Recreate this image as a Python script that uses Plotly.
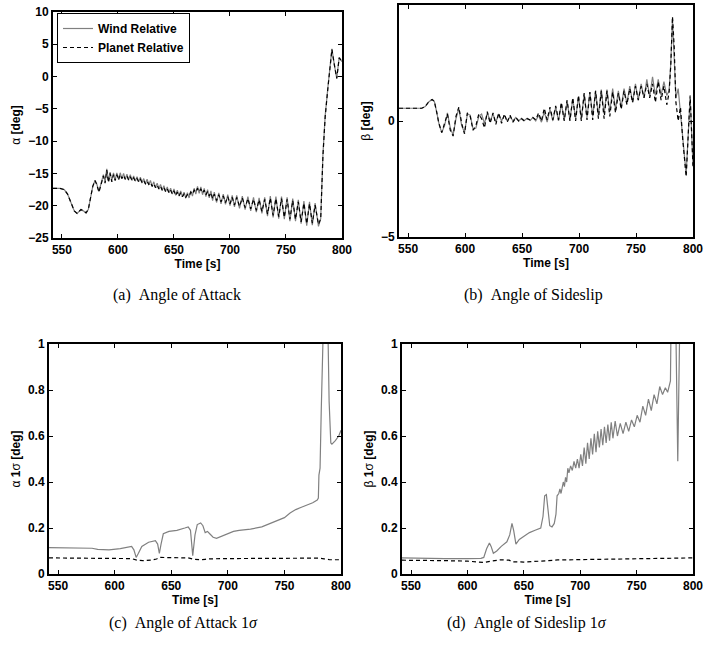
import plotly.graph_objects as go

# ---------------- data ----------------
t_alpha = [542, 548, 552, 555, 558, 561, 563.5, 565, 567, 569, 571.5, 573.5, 575.5, 577.5, 579.5, 581, 583,
           585, 587, 588.5, 590, 591.5, 593, 594.5, 596, 597.5, 599, 600.5, 602, 603.5, 605, 606.5, 608, 609.5,
           611, 612.5, 614, 615.5, 617, 618.5, 620, 621.5, 623, 624.5, 626, 627.5, 629, 630.5, 632, 633.5, 635,
           636.5, 638, 639.5, 641, 642.5, 644, 645.5, 647, 648.5, 650, 651.5, 653, 654.5, 656, 657.5, 659, 660.5,
           662, 663.5, 665, 666.5, 668, 669.5, 671, 672.5, 674, 675.5, 677, 678.5, 680, 681.5, 683, 684.5, 686,
           688, 690, 692, 694, 696, 698, 700, 702, 704, 706, 708.5, 711, 713.5, 716, 718.5, 721, 723.5, 726,
           728.5, 731, 733.5, 736, 738.5, 741, 743.5, 746, 748.5, 751, 753.5, 756, 758.5, 761, 763.5, 766,
           768.5, 771, 773.5, 776, 779, 781, 783, 785, 787.5, 789, 791, 793, 795.3, 797.5, 800]
alpha_wind = [-17.3, -17.3, -17.5, -18.2, -19.5, -20.8, -21.2, -20.9, -20.6, -20.8, -21.1, -20.6, -19.0, -17.0,
              -16.1, -16.6, -17.8, -16.4, -15.2, -16.3, -14.3, -16.2, -14.8, -16.1, -14.9, -16.0, -14.9, -15.9,
              -14.9, -15.8, -15.0, -15.9, -15.1, -16.0, -15.2, -16.1, -15.4, -16.2, -15.5, -16.3, -15.6, -16.4,
              -15.8, -16.6, -15.9, -16.7, -16.1, -17.0, -16.3, -17.2, -16.5, -17.4, -16.7, -17.6, -16.9, -17.8,
              -17.1, -18.0, -17.3, -18.2, -17.4, -18.4, -17.6, -18.5, -17.7, -18.6, -17.9, -18.8, -18.0, -18.8,
              -17.7, -18.5, -17.3, -18.2, -17.0, -18.1, -17.1, -18.3, -17.3, -18.6, -17.5, -18.8, -17.7, -19.2,
              -17.9, -19.5, -18.0, -19.7, -18.2, -19.8, -18.3, -20.0, -18.4, -20.2, -18.4, -20.4, -18.5, -20.6,
              -18.6, -20.8, -18.7, -21.0, -18.8, -21.2, -18.7, -21.6, -18.5, -21.8, -18.6, -22.0, -18.6, -22.1,
              -18.7, -22.4, -18.9, -22.4, -19.1, -22.8, -19.3, -23.1, -19.4, -23.0, -19.6, -23.2, -22.0, -12.0,
              -6.0, -1.5, 1.5, 4.3, 2.0, -0.3, 3.0, 2.3]
alpha_planet = [-17.3, -17.3, -17.5, -18.2, -19.5, -20.8, -21.2, -20.9, -20.6, -20.8, -21.1, -20.6, -19.0, -17.0,
                -16.1, -16.7, -17.9, -16.5, -15.4, -16.5, -14.5, -16.4, -15.0, -16.3, -15.2, -16.1, -15.2, -16.0,
                -15.2, -15.8, -15.3, -15.9, -15.4, -16.0, -15.5, -16.1, -15.7, -16.2, -15.8, -16.3, -15.9, -16.4,
                -16.1, -16.6, -16.2, -16.7, -16.4, -17.0, -16.6, -17.2, -16.8, -17.4, -17.0, -17.6, -17.2, -17.8,
                -17.4, -18.0, -17.6, -18.2, -17.7, -18.4, -17.9, -18.5, -18.0, -18.6, -18.2, -18.7, -18.3, -18.5,
                -17.9, -18.2, -17.6, -17.9, -17.3, -17.8, -17.4, -18.0, -17.6, -18.3, -17.8, -18.5, -18.0, -18.9,
                -18.2, -19.2, -18.3, -19.4, -18.5, -19.5, -18.6, -19.7, -18.7, -19.9, -18.7, -20.1, -18.8, -20.3,
                -18.9, -20.5, -19.0, -20.7, -19.1, -20.9, -19.0, -21.3, -18.8, -21.5, -18.9, -21.7, -18.9, -21.8,
                -19.0, -22.1, -19.2, -22.1, -19.4, -22.5, -19.6, -22.8, -19.7, -22.7, -19.9, -22.9, -22.0, -12.2,
                -6.2, -1.6, 1.4, 4.2, 2.0, -0.3, 2.9, 2.3]

t_beta = [542, 555, 562, 565, 568, 571, 573, 575, 577, 579.5, 582, 584.5, 587, 589.5, 592, 594.5, 597, 599.5,
          602, 604.5, 607, 609.5, 612, 614.5, 617, 619.5, 622, 624.5, 627, 629.5, 632, 634.5, 637, 639.5, 642,
          644.5, 647, 649.5, 652, 654.5, 657, 659.5, 662, 664.5, 667, 669.5, 672, 674.5, 677, 679.5, 682, 684.5,
          687, 689.5, 692, 694.5, 697, 699.5, 702, 704.5, 707, 709.5, 712, 714.5, 717, 719.5, 722, 724.5, 727,
          729.5, 732, 734.5, 737, 739.5, 742, 744.5, 747, 749.5, 752, 754.5, 757, 759.5, 762, 764.5, 767, 769.5,
          772, 774.5, 777, 779, 780.5, 782, 783.5, 785, 787, 789, 791, 794, 797.5, 800]
beta_wind = [0.55, 0.55, 0.55, 0.62, 0.82, 0.93, 0.85, 0.4, -0.1, -0.5, -0.2, 0.35, -0.3, -0.6, 0.1, 0.55, -0.2,
             -0.5, 0.3, 0.25, -0.35, -0.3, 0.2, 0.3, -0.1, 0.35, 0.0, 0.3, -0.05, 0.3, 0.0, 0.25, 0.0, 0.2, 0.0,
             0.15, 0.0, 0.12, 0.02, 0.12, 0.02, 0.15, 0.0, 0.25, -0.05, 0.4, -0.05, 0.5, 0.0, 0.6, 0.0, 0.75, 0.05,
             0.85, 0.05, 0.95, 0.1, 1.05, 0.1, 1.15, 0.15, 1.25, 0.2, 1.3, 0.25, 1.35, 0.3, 1.35, 0.4, 1.4, 0.5,
             1.3, 0.6, 1.4, 0.75, 1.5, 0.8, 1.6, 0.9, 1.6, 1.0, 1.8, 1.05, 1.9, 1.1, 1.8, 1.1, 1.7, 1.1, 1.3, 2.5,
             4.4, 3.0, 1.0, 1.4, 0.3, -0.5, -2.3, 1.0, -1.9]
beta_planet = [0.55, 0.55, 0.55, 0.62, 0.82, 0.93, 0.85, 0.4, -0.1, -0.5, -0.1, 0.3, -0.4, -0.65, 0.2, 0.6, -0.1,
               -0.55, 0.35, 0.2, -0.4, -0.2, 0.3, 0.1, -0.3, 0.4, -0.1, 0.35, -0.15, 0.35, -0.1, 0.3, -0.05, 0.25,
               -0.05, 0.15, 0.0, 0.1, 0.0, 0.1, 0.05, 0.15, 0.05, 0.35, 0.0, 0.55, 0.05, 0.6, 0.05, 0.65, 0.05, 0.8,
               0.0, 0.9, 0.0, 1.0, 0.0, 1.1, 0.0, 1.2, 0.05, 1.25, 0.05, 1.3, 0.1, 1.3, 0.1, 1.3, 0.2, 1.25, 0.35,
               1.2, 0.5, 1.3, 0.7, 1.4, 0.8, 1.5, 0.9, 1.5, 1.0, 1.6, 1.0, 1.6, 0.8, 1.7, 0.9, 1.5, 0.7, 1.2, 2.4,
               4.5, 3.2, 0.8, 0.0, 0.6, -0.8, -2.4, 1.1, -2.0]

t_sa_w = [542, 560, 575, 580, 585, 595, 605, 612, 615, 617, 619, 621, 624, 630, 636, 638, 639.5, 641, 643, 648,
          655, 662, 665, 667, 669, 671, 673, 676, 678, 680, 682, 684, 687, 690, 695, 700, 705, 710, 720, 730, 740,
          750, 755, 760, 765, 770, 775, 779, 780, 780.5, 781.5, 782.5, 783.5, 785, 787, 788.5, 789.5, 791, 792,
          795, 798, 800]
sig_alpha_wind = [0.115, 0.115, 0.113, 0.112, 0.107, 0.105, 0.11, 0.118, 0.12, 0.105, 0.072, 0.09, 0.12, 0.138,
                  0.145, 0.13, 0.09, 0.13, 0.175, 0.185, 0.19, 0.2, 0.205, 0.19, 0.08, 0.17, 0.215, 0.222, 0.21,
                  0.18, 0.185, 0.175, 0.16, 0.155, 0.165, 0.175, 0.185, 0.19, 0.195, 0.205, 0.225, 0.245, 0.265,
                  0.28, 0.29, 0.3, 0.31, 0.322, 0.33, 0.43, 0.46, 0.7, 1.05, 1.2, 1.2, 1.05, 0.75, 0.57, 0.565,
                  0.58, 0.6, 0.625]
t_sa_p = [542, 560, 600, 615, 620, 625, 632, 637, 640, 650, 660, 665, 670, 675, 680, 685, 700, 720, 760, 780, 785,
          790, 800]
sig_alpha_planet = [0.07, 0.07, 0.068, 0.067, 0.06, 0.058, 0.06, 0.065, 0.072, 0.072, 0.071, 0.07, 0.064, 0.062,
                    0.064, 0.066, 0.067, 0.068, 0.069, 0.069, 0.066, 0.062, 0.062]

t_sb_w = [542, 560, 580, 600, 612, 614.5, 617, 619.5, 621, 623, 626, 630, 635, 637.5, 639.5, 641, 643, 646, 650,
          655, 660, 665, 667, 668.5, 670, 671.5, 673, 675, 677, 678.5, 679.5, 681, 682, 683, 684, 685, 686, 687,
          688, 689, 690, 691.5, 693, 694.5, 696, 697.5, 699, 700.5, 702, 703.5, 705, 706.5, 708, 709.5, 711,
          712.5, 714, 715.5, 717, 718.5, 720, 721.5, 723, 724.5, 726, 727.5, 729, 731, 733, 735.5, 738, 740.5,
          743, 745.5, 748, 750.5, 753, 755.5, 758, 760.5, 763, 765.5, 768, 770.5, 773, 775.5, 777.5, 779, 780,
          781, 783, 785, 786.5, 788, 789.5, 795, 800]
sig_beta_wind = [0.07, 0.068, 0.067, 0.067, 0.068, 0.072, 0.11, 0.135, 0.12, 0.09, 0.1, 0.12, 0.14, 0.17, 0.22,
                 0.19, 0.13, 0.15, 0.165, 0.18, 0.19, 0.2, 0.25, 0.34, 0.345, 0.28, 0.21, 0.205, 0.22, 0.26, 0.34,
                 0.35, 0.37, 0.35, 0.38, 0.4, 0.38, 0.42, 0.4, 0.46, 0.44, 0.47, 0.45, 0.49, 0.46, 0.5, 0.46, 0.52,
                 0.47, 0.55, 0.48, 0.57, 0.5, 0.59, 0.52, 0.61, 0.53, 0.62, 0.55, 0.63, 0.56, 0.64, 0.57, 0.65,
                 0.58, 0.66, 0.59, 0.665, 0.6, 0.655, 0.61, 0.66, 0.62, 0.67, 0.64, 0.69, 0.66, 0.73, 0.69, 0.76,
                 0.71, 0.78, 0.74, 0.815, 0.78, 0.81, 0.79, 0.83, 0.84, 1.3, 1.6, 1.0, 0.49, 1.0, 1.5, 1.6, 1.6]
t_sb_p = [542, 560, 580, 600, 615, 620, 625, 630, 637, 640, 650, 665, 672, 680, 700, 720, 740, 760, 780, 800]
sig_beta_planet = [0.06, 0.06, 0.058, 0.056, 0.05, 0.055, 0.06, 0.062, 0.06, 0.053, 0.052, 0.054, 0.058, 0.061,
                   0.063, 0.064, 0.065, 0.067, 0.069, 0.07]

x_ticks = [550, 600, 650, 700, 750, 800]
x_labels = ["550", "600", "650", "700", "750", "800"]
alpha_ticks = [-25, -20, -15, -10, -5, 0, 5, 10]
alpha_labels = ["\u221225", "\u221220", "\u221215", "\u221210", "\u22125", "0", "5", "10"]
beta_ticks = [-5, 0, 5]
beta_labels = ["\u22125", "0", "5"]
sigma_ticks = [0, 0.2, 0.4, 0.6, 0.8, 1]
sigma_labels = ["0", "0.2", "0.4", "0.6", "0.8", "1"]

# ---------------- figure ----------------
W, H = 704, 646
GRAY = "#808080"
DASH = "4px,3px"
TICKFONT = dict(family="Liberation Sans, Arial", size=12, color="black")
TITLEFONT = dict(family="Liberation Sans, Arial", size=12, color="black")

def bold(labels):
    return ["<b>%s</b>" % s for s in labels]

fig = go.Figure()

panels = [
    ("x", "y", t_alpha, alpha_wind, t_alpha, alpha_planet, True),
    ("x2", "y2", t_beta, beta_wind, t_beta, beta_planet, False),
    ("x3", "y3", t_sa_w, sig_alpha_wind, t_sa_p, sig_alpha_planet, False),
    ("x4", "y4", t_sb_w, sig_beta_wind, t_sb_p, sig_beta_planet, False),
]
for xa, ya, tw, yw, tp, yp, leg in panels:
    fig.add_trace(go.Scatter(x=tw, y=yw, mode="lines", name="Wind Relative", xaxis=xa, yaxis=ya,
                             line=dict(color=GRAY, width=1.2), showlegend=leg))
    fig.add_trace(go.Scatter(x=tp, y=yp, mode="lines", name="Planet Relative", xaxis=xa, yaxis=ya,
                             line=dict(color="black", width=1.2, dash=DASH), showlegend=leg))

def px_dom(a, b, total):
    return [a / total, b / total]

def py_dom(top, bottom):
    return [1 - bottom / H, 1 - top / H]

common_axis = dict(showline=True, linecolor="black", linewidth=2, mirror="ticks", ticks="inside",
                   ticklen=4, tickwidth=1, tickcolor="black", showgrid=False, zeroline=False,
                   tickfont=TICKFONT)

def xaxis(dom, anchor):
    return dict(common_axis, domain=dom, anchor=anchor, range=[542, 800], tickvals=x_ticks,
                ticktext=bold(x_labels),
                title=dict(text="<b>Time [s]</b>", font=TITLEFONT, standoff=0))

def yaxis(dom, anchor, rng, tv, tt, title, standoff):
    return dict(common_axis, domain=dom, anchor=anchor, range=rng, tickvals=tv, ticktext=bold(tt),
                title=dict(text=title, font=TITLEFONT, standoff=standoff))

fig.update_layout(
    width=W, height=H, margin=dict(l=0, r=0, t=0, b=0), template="none",
    paper_bgcolor="white", plot_bgcolor="white",
    xaxis=xaxis(px_dom(53, 342, W), "y"),
    yaxis=yaxis(py_dom(12, 238), "x", [-25, 10], alpha_ticks, alpha_labels, "α <b>[deg]</b>", 5),
    xaxis2=xaxis(px_dom(399, 693, W), "y2"),
    yaxis2=yaxis(py_dom(5, 237), "x2", [-5, 5], beta_ticks, beta_labels, "β <b>[deg]</b>", 8),
    xaxis3=xaxis(px_dom(49, 341, W), "y3"),
    yaxis3=yaxis(py_dom(344, 574), "x3", [0, 1], sigma_ticks, sigma_labels, "α <b>1</b>σ <b>[deg]</b>", 5),
    xaxis4=xaxis(px_dom(402, 693, W), "y4"),
    yaxis4=yaxis(py_dom(344, 574), "x4", [0, 1], sigma_ticks, sigma_labels, "β <b>1</b>σ <b>[deg]</b>", 5),
    legend=dict(x=57 / W, y=1 - 13 / H, xanchor="left", yanchor="top", bgcolor="white",
                bordercolor="black", borderwidth=1, itemwidth=30, tracegroupgap=0,
                font=dict(family="Liberation Sans, Arial", size=12, color="black", weight="bold")),
    showlegend=True,
)

CAP = dict(family="Liberation Serif, Times New Roman", size=16, color="black")
captions = [
    ("(a)\u00a0\u00a0Angle of Attack", 177, 295),
    ("(b)\u00a0\u00a0Angle of Sideslip", 533, 295),
    ("(c)\u00a0\u00a0Angle of Attack 1<i>σ</i>", 183, 623),
    ("(d)\u00a0\u00a0Angle of Sideslip 1<i>σ</i>", 527, 623),
]
for text, cx, cy in captions:
    fig.add_annotation(text=text, x=cx / W, y=1 - cy / H, xref="paper", yref="paper",
                       xanchor="center", yanchor="middle", showarrow=False, font=CAP)

fig.write_html("out.html")
